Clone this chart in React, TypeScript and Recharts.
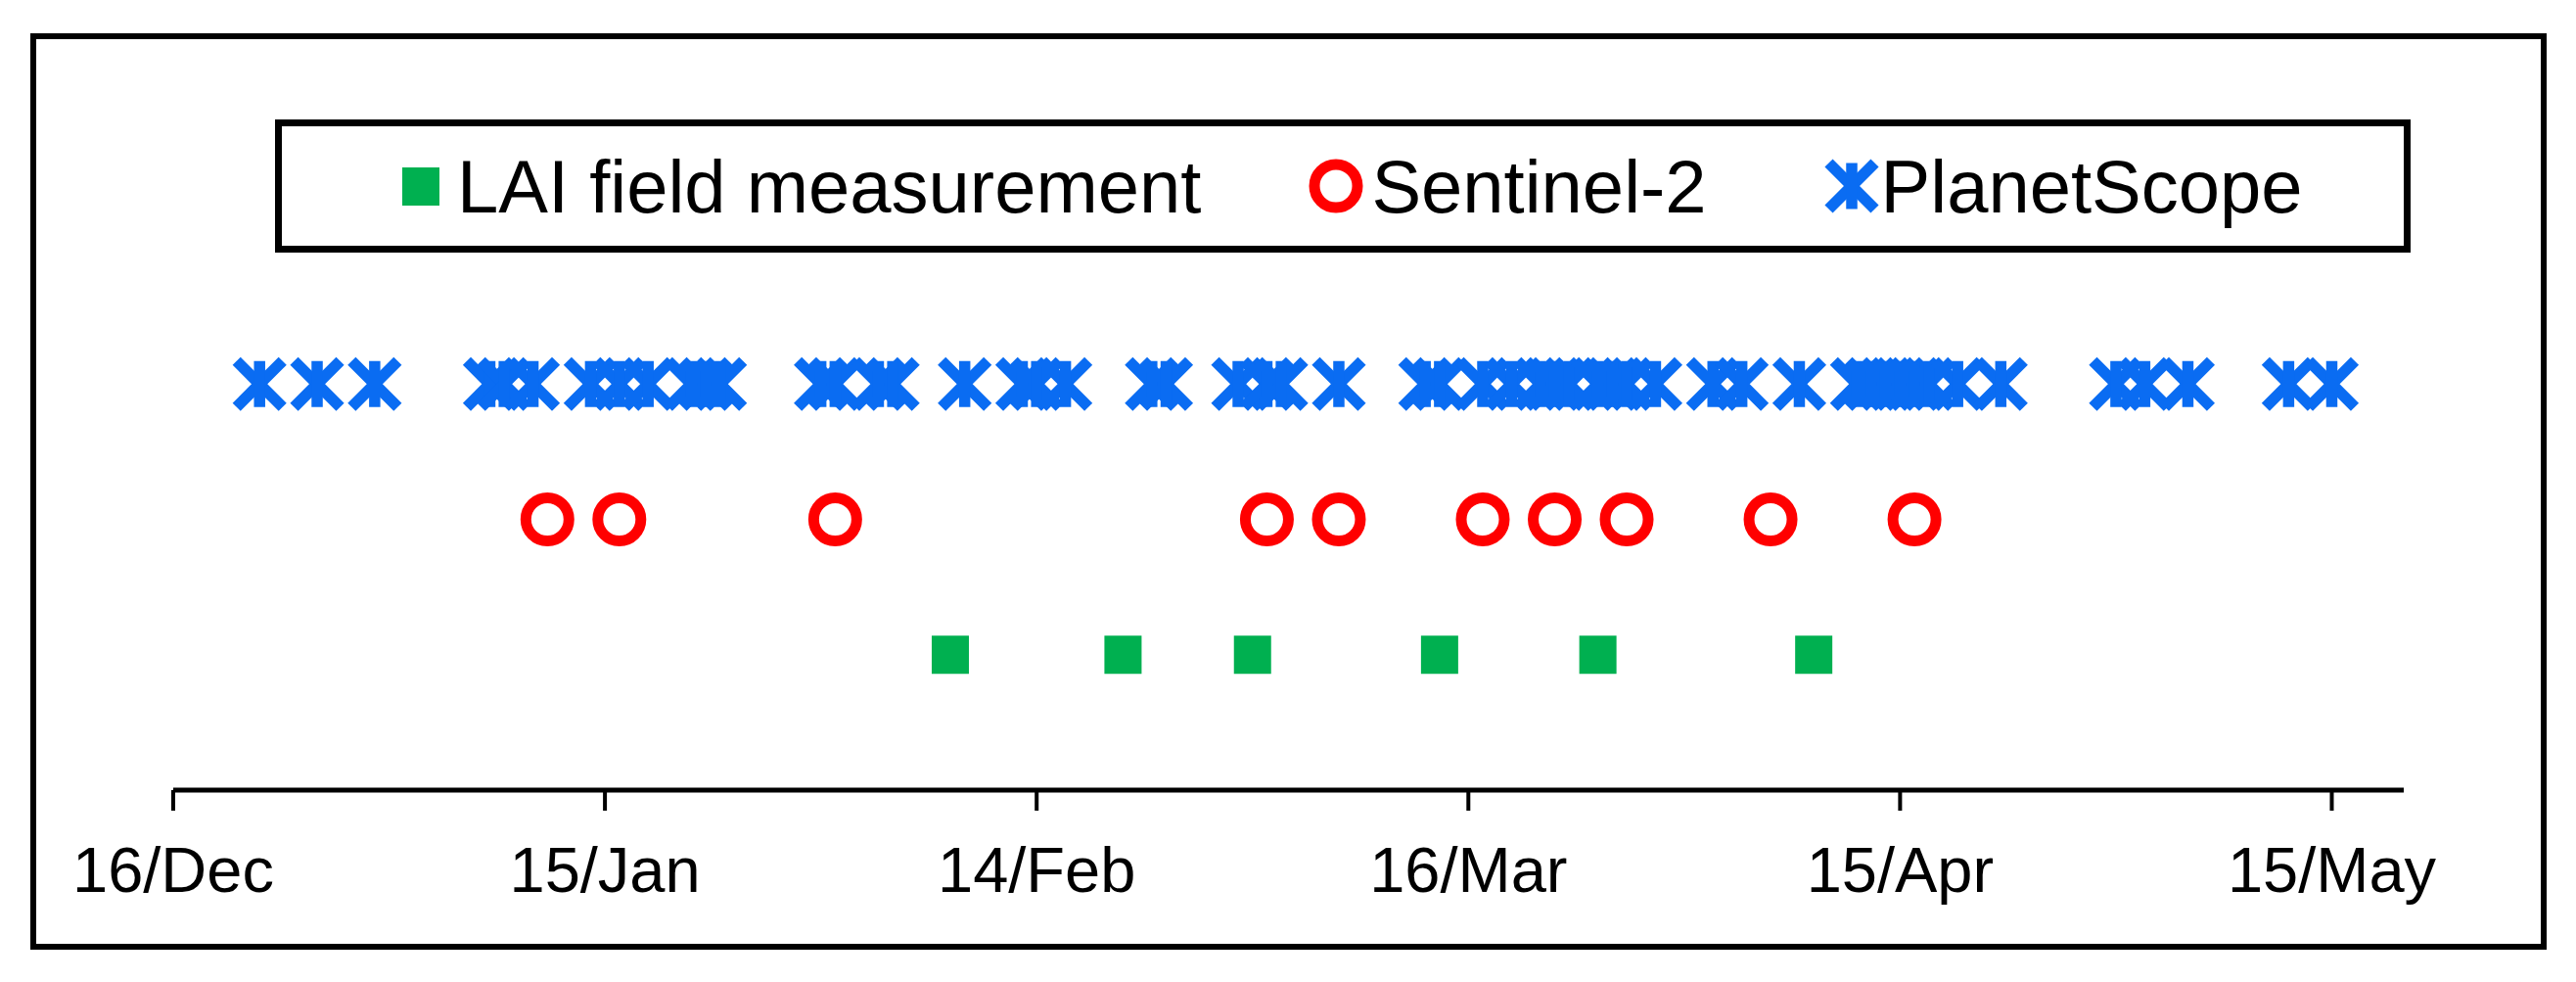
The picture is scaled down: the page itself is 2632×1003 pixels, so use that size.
import React from 'react';
import { ScatterChart, Scatter, XAxis, YAxis, Legend } from 'recharts';

// Day offsets counted from 16 December (day 0)
const tickDays = [0, 30, 60, 90, 120, 150];
const tickLabels = ['16/Dec', '15/Jan', '14/Feb', '16/Mar', '15/Apr', '15/May'];

const planetScopeDays = [
  6, 10, 14, 22, 23, 25, 29, 31, 33, 36, 37, 38, 45, 46, 49, 50, 55, 59, 60, 62,
  68, 69, 74, 76, 77, 81, 87, 88, 91, 93, 95, 96, 97, 99, 100, 101, 103, 107, 109,
  113, 117, 118, 119, 120, 121, 122, 124, 127, 135, 137, 140, 147, 150,
];
const sentinel2Days = [26, 31, 46, 76, 81, 91, 96, 101, 111, 121];
const laiDays = [54, 66, 75, 88, 99, 114];

const seriesNames = ['LAI field measurement', 'Sentinel-2', 'PlanetScope'];
const rowLevel = [1, 2, 3];

const GREEN = '#00B050';
const RED = '#FF0000';
const BLUE = '#0A6CF2';
const FONT = '"Liberation Sans", Arial, sans-serif';

const laiData = laiDays.map((d) => ({ x: d, y: rowLevel[0] }));
const s2Data = sentinel2Days.map((d) => ({ x: d, y: rowLevel[1] }));
const psData = planetScopeDays.map((d) => ({ x: d, y: rowLevel[2] }));

const StarShape = (props: any) => {
  const { cx, cy } = props;
  const a = 23.5;
  return (
    <g stroke={BLUE} strokeWidth={11.5} fill="none">
      <line x1={cx - a} y1={cy - a} x2={cx + a} y2={cy + a} />
      <line x1={cx - a} y1={cy + a} x2={cx + a} y2={cy - a} />
      <line x1={cx} y1={cy - a} x2={cx} y2={cy + a} />
    </g>
  );
};

const CircleShape = (props: any) => {
  const { cx, cy } = props;
  return <circle cx={cx} cy={cy} r={22} stroke={RED} strokeWidth={11} fill="none" />;
};

const SquareShape = (props: any) => {
  const { cx, cy } = props;
  return <rect x={cx - 19} y={cy - 19.5} width={38} height={39} fill={GREEN} />;
};

const LegendBox = () => (
  <div
    style={{
      boxSizing: 'border-box',
      width: 2182,
      height: 136,
      border: '7px solid #000',
      background: '#fff',
      display: 'flex',
      alignItems: 'center',
      paddingLeft: 123,
      fontFamily: FONT,
      fontSize: 76,
      color: '#000',
      whiteSpace: 'nowrap',
    }}
  >
    <svg width={38} height={39} style={{ marginRight: 18 }}>
      <rect x={0} y={0} width={38} height={39} fill={GREEN} />
    </svg>
    <span style={{ marginRight: 110 }}>{seriesNames[0]}</span>
    <svg width={56} height={56} style={{ marginRight: 8 }}>
      <circle cx={28} cy={28} r={22} stroke={RED} strokeWidth={11} fill="none" />
    </svg>
    <span style={{ marginRight: 120 }}>{seriesNames[1]}</span>
    <svg width={56} height={56} style={{ marginRight: 2 }}>
      <g stroke={BLUE} strokeWidth={11.5}>
        <line x1={4.5} y1={4.5} x2={51.5} y2={51.5} />
        <line x1={4.5} y1={51.5} x2={51.5} y2={4.5} />
        <line x1={28} y1={4.5} x2={28} y2={51.5} />
      </g>
    </svg>
    <span>{seriesNames[2]}</span>
  </div>
);

export default function App() {
  return (
    <div style={{ position: 'relative', width: 2616, height: 987, background: '#fff' }}>
      <div
        style={{
          position: 'absolute',
          left: 23,
          top: 26,
          width: 2571,
          height: 936,
          boxSizing: 'border-box',
          border: '6px solid #000',
        }}
      />
      <div style={{ position: 'absolute', left: 0, top: 0 }}>
        <ScatterChart
          width={2616}
          height={987}
          margin={{ top: 246, right: 168, bottom: 88, left: 169 }}
        >
          <XAxis
            type="number"
            dataKey="x"
            domain={[0, 155]}
            ticks={tickDays}
            tickFormatter={(v: number) => tickLabels[tickDays.indexOf(v)] ?? ''}
            height={100}
            tickSize={21}
            tickMargin={37}
            axisLine={{ stroke: '#000', strokeWidth: 5 }}
            tickLine={{ stroke: '#000', strokeWidth: 4 }}
            tick={{ fill: '#000', fontSize: 65, fontFamily: FONT }}
            allowDataOverflow
          />
          <YAxis type="number" dataKey="y" domain={[0, 4]} hide width={0} />
          <Legend
            layout="horizontal"
            verticalAlign="middle"
            align="center"
            wrapperStyle={{ position: 'absolute', left: 273, top: 114, width: 2182, height: 136 }}
            content={() => <LegendBox />}
          />
          <Scatter name={seriesNames[2]} data={psData} shape={StarShape} isAnimationActive={false} />
          <Scatter name={seriesNames[1]} data={s2Data} shape={CircleShape} isAnimationActive={false} />
          <Scatter name={seriesNames[0]} data={laiData} shape={SquareShape} isAnimationActive={false} />
        </ScatterChart>
      </div>
    </div>
  );
}
